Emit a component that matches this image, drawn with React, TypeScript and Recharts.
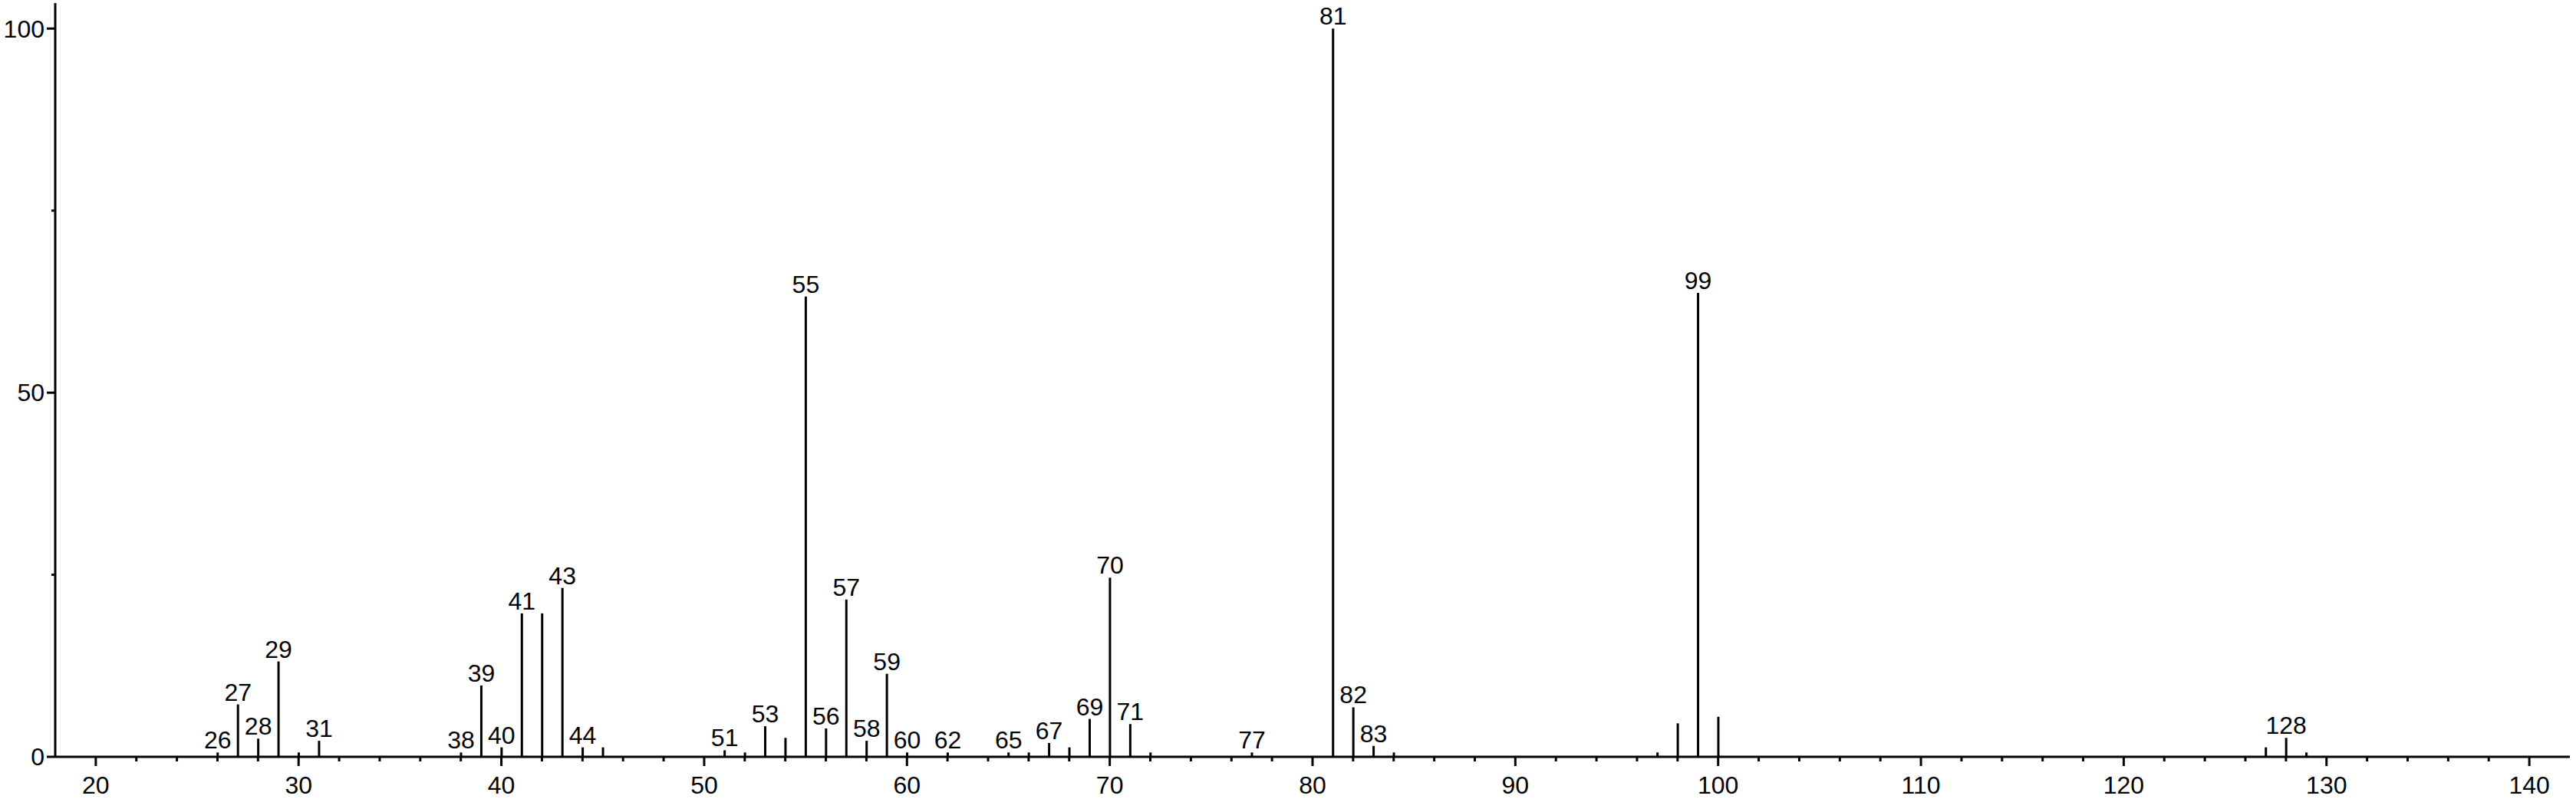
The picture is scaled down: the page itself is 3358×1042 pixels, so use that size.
import React from 'react';
import { BarChart, Bar, XAxis, YAxis, LabelList } from 'recharts';

const mzValues = [26, 27, 28, 29, 30, 31, 38, 39, 40, 41, 42, 43, 44, 45, 51, 52, 53, 54, 55, 56, 57, 58, 59, 60, 62, 65, 66, 67, 68, 69, 70, 71, 72, 77, 81, 82, 83, 84, 97, 98, 99, 100, 127, 128, 129];
const intensities = [0.6, 7.2, 2.5, 13.1, 0.6, 2.2, 0.6, 9.8, 1.3, 19.7, 19.7, 23.2, 1.3, 1.3, 0.9, 0.6, 4.2, 2.6, 63.2, 3.9, 21.6, 2.2, 11.4, 0.6, 0.6, 0.6, 0.6, 1.9, 1.3, 5.2, 24.6, 4.5, 0.6, 0.6, 100, 6.8, 1.5, 0.6, 0.6, 4.6, 63.7, 5.5, 1.3, 2.6, 0.6];
const labeledMz = [26, 27, 28, 29, 31, 38, 39, 40, 41, 43, 44, 51, 53, 55, 56, 57, 58, 59, 60, 62, 65, 67, 69, 70, 71, 77, 81, 82, 83, 99, 128];

const xMajorTicks = [20, 30, 40, 50, 60, 70, 80, 90, 100, 110, 120, 130, 140];
const xMinorTicks = [22, 24, 26, 28, 32, 34, 36, 38, 42, 44, 46, 48, 52, 54, 56, 58, 62, 64, 66, 68, 72, 74, 76, 78, 82, 84, 86, 88, 92, 94, 96, 98, 102, 104, 106, 108, 112, 114, 116, 118, 122, 124, 126, 128, 132, 134, 136, 138];
const yMajorTicks = [0, 50, 100];
const yMinorTicks = [25, 75];

const data = mzValues.map((mz, i) => ({
  mz,
  intensity: intensities[i],
  label: labeledMz.includes(mz) ? String(mz) : '',
}));

const FONT = '"Liberation Sans", Arial, sans-serif';
const FONT_SIZE = 32;

const XTick = (props: any) => {
  const { x, y, payload } = props;
  const isMajor = xMajorTicks.includes(payload.value);
  return (
    <g>
      <line x1={x} y1={y} x2={x} y2={y + (isMajor ? 12 : 6)} stroke="#000" strokeWidth={3} />
      {isMajor && (
        <text x={x} y={y + 25} dy="0.71em" textAnchor="middle" fontFamily={FONT} fontSize={FONT_SIZE} fill="#000">
          {payload.value}
        </text>
      )}
    </g>
  );
};

const YTick = (props: any) => {
  const { x, y, payload } = props;
  const isMajor = yMajorTicks.includes(payload.value);
  return (
    <g>
      <line x1={x - (isMajor ? 11 : 5)} y1={y} x2={x} y2={y} stroke="#000" strokeWidth={3} />
      {isMajor && (
        <text x={x - 14} y={y} dy="0.355em" textAnchor="end" fontFamily={FONT} fontSize={FONT_SIZE} fill="#000">
          {payload.value}
        </text>
      )}
    </g>
  );
};

const PeakLabel = (props: any) => {
  const { x, y, width, value } = props;
  if (!value) return null;
  return (
    <text x={x + width / 2} y={y - 5} textAnchor="middle" fontFamily={FONT} fontSize={FONT_SIZE} fill="#000">
      {value}
    </text>
  );
};

export default function App() {
  return (
    <div style={{ position: 'absolute', left: 0, top: 0, background: '#fff' }}>
      <BarChart
        width={3358}
        height={1042}
        data={data}
        margin={{ top: 4, right: 8, bottom: 0, left: 0 }}
        barCategoryGap={0}
      >
        <XAxis
          dataKey="mz"
          type="number"
          domain={[18, 142]}
          allowDataOverflow
          ticks={[...xMajorTicks, ...xMinorTicks].sort((a, b) => a - b)}
          interval={0}
          height={55}
          tickSize={0}
          tickMargin={0}
          tickLine={false}
          axisLine={{ stroke: '#000', strokeWidth: 3 }}
          tick={<XTick />}
        />
        <YAxis
          type="number"
          domain={[0, 103.5]}
          allowDataOverflow
          ticks={[...yMajorTicks, ...yMinorTicks].sort((a, b) => a - b)}
          interval={0}
          width={72}
          tickSize={0}
          tickMargin={0}
          tickLine={false}
          axisLine={{ stroke: '#000', strokeWidth: 3 }}
          tick={<YTick />}
        />
        <Bar dataKey="intensity" fill="#000" barSize={3} isAnimationActive={false}>
          <LabelList dataKey="label" content={<PeakLabel />} />
        </Bar>
      </BarChart>
    </div>
  );
}
